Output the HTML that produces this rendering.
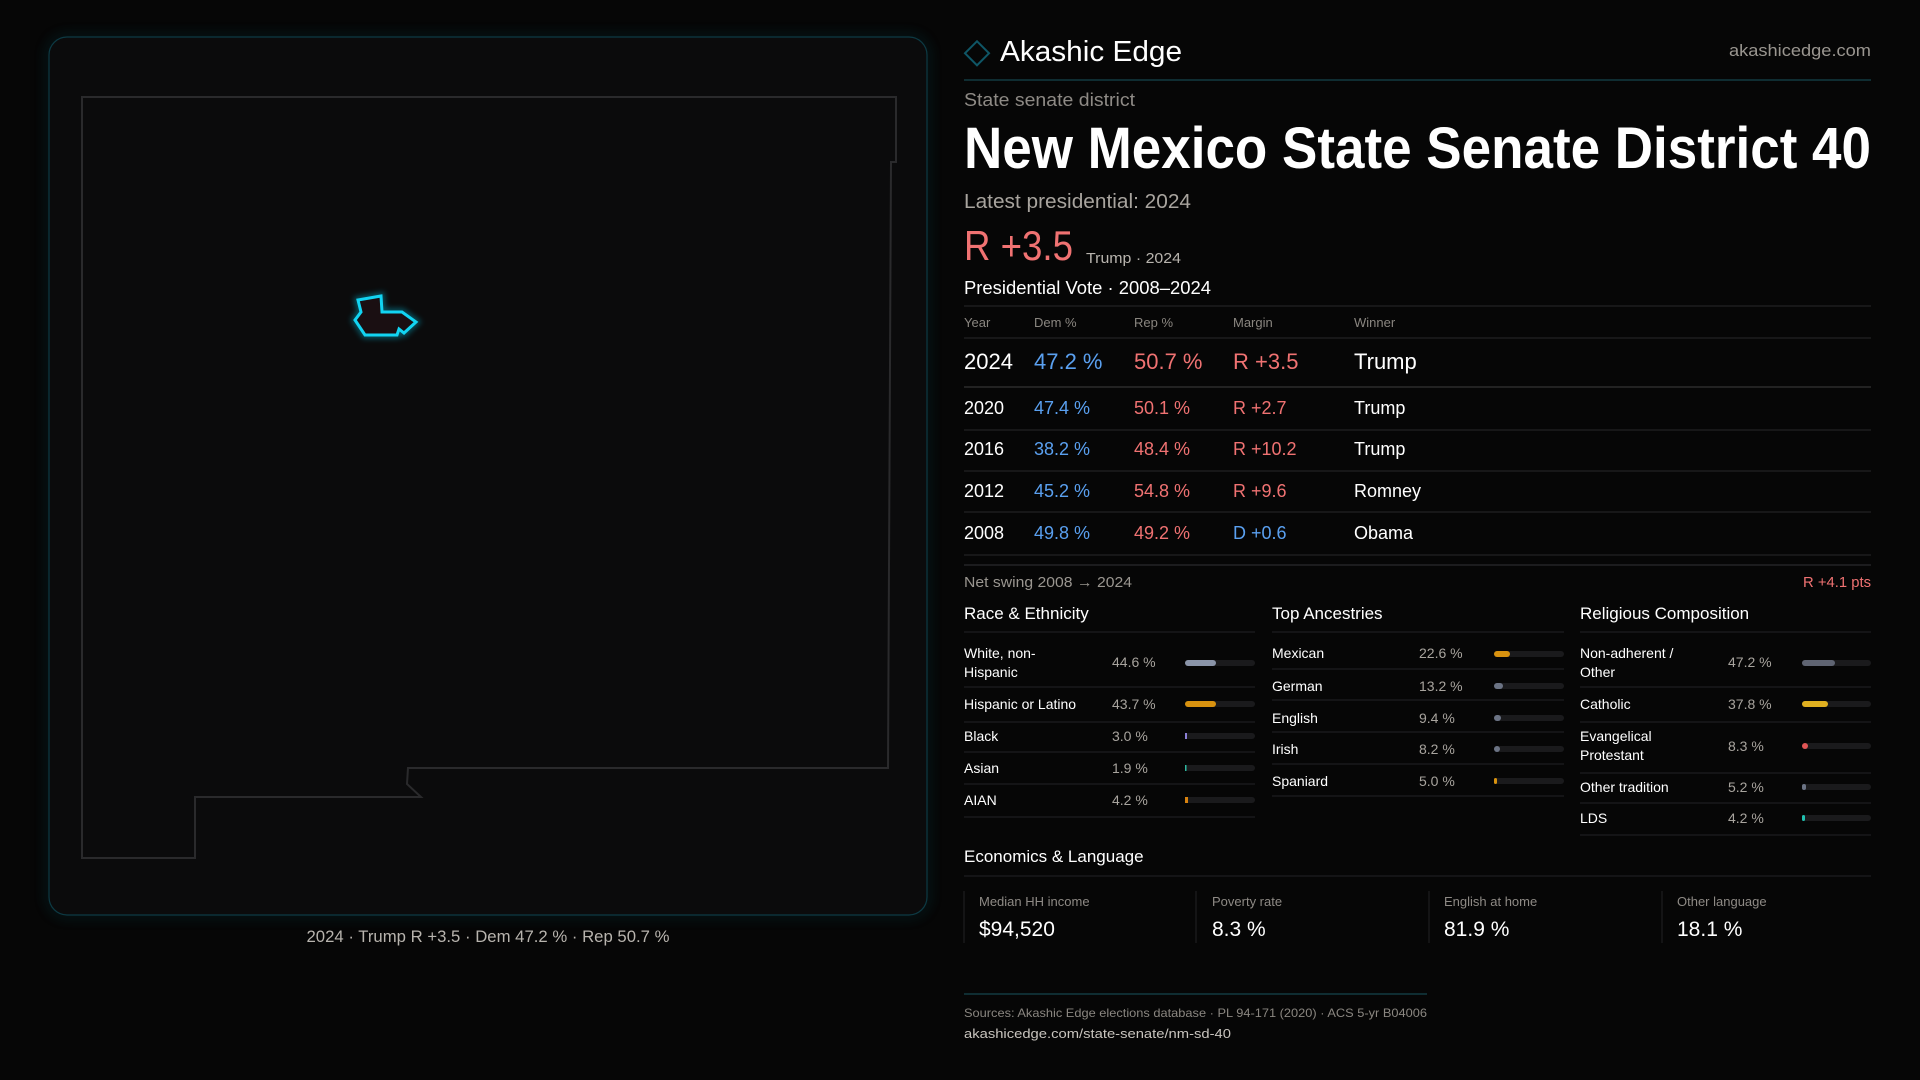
<!DOCTYPE html>
<html><head><meta charset="utf-8"><style>
html,body{margin:0;padding:0;background:#060606;}
svg{display:block;}
text{font-family:"Liberation Sans",sans-serif;}
</style></head><body>
<svg width="1920" height="1080" viewBox="0 0 1920 1080" xmlns="http://www.w3.org/2000/svg">
<defs>
<filter id="glow" x="-20%" y="-20%" width="140%" height="140%"><feGaussianBlur stdDeviation="6"/></filter>
<filter id="g2" x="-50%" y="-50%" width="200%" height="200%"><feGaussianBlur stdDeviation="3"/></filter>
</defs>
<rect width="1920" height="1080" fill="#060606"/>
<!-- map card -->
<rect x="49" y="37" width="878" height="878" rx="18" fill="none" stroke="#0c4450" stroke-width="4" opacity="0.5" filter="url(#glow)"/>
<rect x="49" y="37" width="878" height="878" rx="18" fill="#0b0b0c" stroke="#0d3a44" stroke-width="1.2"/>
<polygon points="82,97 896,97 896,162 891,162 888,768 408,768 407,784 421,797 195,797 195,858 82,858" fill="none" stroke="#2a2a2c" stroke-width="2"/>
<polygon points="358,300 381,296 382,312 402,312 416,322 404,333 399,329 397,335 365,335 355,320 361,312" fill="none" stroke="#00c8e8" stroke-width="7" opacity="0.4" filter="url(#g2)"/>
<polygon points="358,300 381,296 382,312 402,312 416,322 404,333 399,329 397,335 365,335 355,320 361,312" fill="#1a0f12" stroke="#12d4f2" stroke-width="3"/>
<text x="488" y="942" font-size="17" fill="#b8b4ae" text-anchor="middle" textLength="363" lengthAdjust="spacingAndGlyphs">2024 · Trump R +3.5 · Dem 47.2 % · Rep 50.7 %</text>

<!-- header -->
<rect x="968" y="45" width="17" height="17" transform="rotate(45 977 54)" fill="none" stroke="#0f5666" stroke-width="2"/>
<text x="1000" y="61" font-size="29" fill="#ffffff" textLength="182" lengthAdjust="spacingAndGlyphs">Akashic Edge</text>
<text x="1871" y="56" font-size="17" fill="#9a9690" text-anchor="end" textLength="142" lengthAdjust="spacingAndGlyphs">akashicedge.com</text>
<line x1="964" y1="80" x2="1871" y2="80" stroke="#123a40" stroke-width="1.5"/>
<text x="964" y="106" font-size="18" fill="#8e8a85" textLength="171" lengthAdjust="spacingAndGlyphs">State senate district</text>
<text x="964" y="168" font-size="58" fill="#ffffff" font-weight="bold" textLength="907" lengthAdjust="spacingAndGlyphs">New Mexico State Senate District 40</text>
<text x="964" y="208" font-size="20" fill="#a8a49e" textLength="227" lengthAdjust="spacingAndGlyphs">Latest presidential: 2024</text>
<text x="964" y="260" font-size="42" fill="#f07272" textLength="109" lengthAdjust="spacingAndGlyphs">R +3.5</text>
<text x="1086" y="263" font-size="15" fill="#b8b4ae" textLength="95" lengthAdjust="spacingAndGlyphs">Trump · 2024</text>
<text x="964" y="294" font-size="18" fill="#ffffff" textLength="247" lengthAdjust="spacingAndGlyphs">Presidential Vote · 2008–2024</text>
<g stroke="#222224" stroke-width="1.2">
<line x1="964" y1="306" x2="1871" y2="306"/>
<line x1="964" y1="338" x2="1871" y2="338"/>
<line x1="964" y1="387" x2="1871" y2="387" stroke="#333"/>
<line x1="964" y1="430" x2="1871" y2="430"/>
<line x1="964" y1="471" x2="1871" y2="471"/>
<line x1="964" y1="512" x2="1871" y2="512"/>
<line x1="964" y1="555" x2="1871" y2="555"/>
<line x1="964" y1="565" x2="1871" y2="565" stroke="#2a2a2c"/>
</g>
<g font-size="13" fill="#8a8680">
<text x="964" y="327">Year</text><text x="1034" y="327">Dem %</text><text x="1134" y="327">Rep %</text><text x="1233" y="327">Margin</text><text x="1354" y="327">Winner</text>
</g>
<g font-size="22">
<text x="964" y="369" fill="#fff">2024</text><text x="1034" y="369" fill="#5aa0f0">47.2 %</text><text x="1134" y="369" fill="#f07272">50.7 %</text><text x="1233" y="369" fill="#f07272">R +3.5</text><text x="1354" y="369" fill="#fff">Trump</text>
</g>
<g font-size="18">
<text x="964" y="414" fill="#fff">2020</text><text x="1034" y="414" fill="#5aa0f0">47.4 %</text><text x="1134" y="414" fill="#f07272">50.1 %</text><text x="1233" y="414" fill="#f07272">R +2.7</text><text x="1354" y="414" fill="#fff">Trump</text>
<text x="964" y="455" fill="#fff">2016</text><text x="1034" y="455" fill="#5aa0f0">38.2 %</text><text x="1134" y="455" fill="#f07272">48.4 %</text><text x="1233" y="455" fill="#f07272">R +10.2</text><text x="1354" y="455" fill="#fff">Trump</text>
<text x="964" y="497" fill="#fff">2012</text><text x="1034" y="497" fill="#5aa0f0">45.2 %</text><text x="1134" y="497" fill="#f07272">54.8 %</text><text x="1233" y="497" fill="#f07272">R +9.6</text><text x="1354" y="497" fill="#fff">Romney</text>
<text x="964" y="539" fill="#fff">2008</text><text x="1034" y="539" fill="#5aa0f0">49.8 %</text><text x="1134" y="539" fill="#f07272">49.2 %</text><text x="1233" y="539" fill="#5aa0f0">D +0.6</text><text x="1354" y="539" fill="#fff">Obama</text>
</g>
<text x="964" y="587" font-size="15" fill="#9a9690" textLength="168" lengthAdjust="spacingAndGlyphs">Net swing 2008 → 2024</text>
<text x="1871" y="587" font-size="15" fill="#f07272" text-anchor="end" textLength="68" lengthAdjust="spacingAndGlyphs">R +4.1 pts</text>

<!-- section titles -->
<g font-size="17" fill="#fff">
<text x="964" y="619">Race &amp; Ethnicity</text>
<text x="1272" y="619">Top Ancestries</text>
<text x="1580" y="619">Religious Composition</text>
</g>
<g stroke="#1e1e20" stroke-width="1.2">
<line x1="964" y1="632" x2="1255" y2="632"/><line x1="1272" y1="632" x2="1564" y2="632"/><line x1="1580" y1="632" x2="1871" y2="632"/>
<line x1="964" y1="687" x2="1255" y2="687"/><line x1="964" y1="722" x2="1255" y2="722"/><line x1="964" y1="752" x2="1255" y2="752"/><line x1="964" y1="784" x2="1255" y2="784"/><line x1="964" y1="817" x2="1255" y2="817"/>
<line x1="1272" y1="669" x2="1564" y2="669"/><line x1="1272" y1="700" x2="1564" y2="700"/><line x1="1272" y1="732" x2="1564" y2="732"/><line x1="1272" y1="764" x2="1564" y2="764"/><line x1="1272" y1="796" x2="1564" y2="796"/>
<line x1="1580" y1="687" x2="1871" y2="687"/><line x1="1580" y1="722" x2="1871" y2="722"/><line x1="1580" y1="773" x2="1871" y2="773"/><line x1="1580" y1="803" x2="1871" y2="803"/><line x1="1580" y1="835" x2="1871" y2="835"/>
</g>
<g font-size="14" fill="#fff">
<text x="964" y="658">White, non-</text><text x="964" y="677">Hispanic</text>
<text x="964" y="709">Hispanic or Latino</text>
<text x="964" y="741">Black</text>
<text x="964" y="773">Asian</text>
<text x="964" y="805">AIAN</text>
<text x="1272" y="658">Mexican</text>
<text x="1272" y="691">German</text>
<text x="1272" y="723">English</text>
<text x="1272" y="754">Irish</text>
<text x="1272" y="786">Spaniard</text>
<text x="1580" y="658">Non-adherent /</text><text x="1580" y="677">Other</text>
<text x="1580" y="709">Catholic</text>
<text x="1580" y="741">Evangelical</text><text x="1580" y="760">Protestant</text>
<text x="1580" y="792">Other tradition</text>
<text x="1580" y="823">LDS</text>
</g>
<g font-size="14" fill="#a8a49e">
<text x="1112" y="667">44.6 %</text><text x="1112" y="709">43.7 %</text><text x="1112" y="741">3.0 %</text><text x="1112" y="773">1.9 %</text><text x="1112" y="805">4.2 %</text>
<text x="1419" y="658">22.6 %</text><text x="1419" y="691">13.2 %</text><text x="1419" y="723">9.4 %</text><text x="1419" y="754">8.2 %</text><text x="1419" y="786">5.0 %</text>
<text x="1728" y="667">47.2 %</text><text x="1728" y="709">37.8 %</text><text x="1728" y="751">8.3 %</text><text x="1728" y="792">5.2 %</text><text x="1728" y="823">4.2 %</text>
</g>
<g fill="#1a1a1c">
<rect x="1185" y="660" width="70" height="6" rx="3"/><rect x="1185" y="701" width="70" height="6" rx="3"/><rect x="1185" y="733" width="70" height="6" rx="3"/><rect x="1185" y="765" width="70" height="6" rx="3"/><rect x="1185" y="797" width="70" height="6" rx="3"/>
<rect x="1494" y="651" width="70" height="6" rx="3"/><rect x="1494" y="683" width="70" height="6" rx="3"/><rect x="1494" y="715" width="70" height="6" rx="3"/><rect x="1494" y="746" width="70" height="6" rx="3"/><rect x="1494" y="778" width="70" height="6" rx="3"/>
<rect x="1802" y="660" width="69" height="6" rx="3"/><rect x="1802" y="701" width="69" height="6" rx="3"/><rect x="1802" y="743" width="69" height="6" rx="3"/><rect x="1802" y="784" width="69" height="6" rx="3"/><rect x="1802" y="815" width="69" height="6" rx="3"/>
</g>
<rect x="1185" y="660" width="31" height="6" rx="3" fill="#8a94a8"/>
<rect x="1185" y="701" width="31" height="6" rx="3" fill="#d8920f"/>
<rect x="1185" y="733" width="2" height="6" fill="#8b7fd6"/>
<rect x="1185" y="765" width="1.5" height="6" fill="#2fb8a0"/>
<rect x="1185" y="797" width="3" height="6" fill="#d8820f"/>
<rect x="1494" y="651" width="16" height="6" rx="3" fill="#d8920f"/>
<rect x="1494" y="683" width="9" height="6" rx="3" fill="#6b7384"/>
<rect x="1494" y="715" width="7" height="6" rx="3" fill="#6b7384"/>
<rect x="1494" y="746" width="6" height="6" rx="3" fill="#6b7384"/>
<rect x="1494" y="778" width="3" height="6" rx="1.5" fill="#d8920f"/>
<rect x="1802" y="660" width="33" height="6" rx="3" fill="#5f6472"/>
<rect x="1802" y="701" width="26" height="6" rx="3" fill="#e0b020"/>
<rect x="1802" y="743" width="6" height="6" rx="3" fill="#e05555"/>
<rect x="1802" y="784" width="4" height="6" rx="2" fill="#6b7384"/>
<rect x="1802" y="815" width="3" height="6" rx="1.5" fill="#20c0b0"/>

<!-- economics -->
<text x="964" y="862" font-size="17" fill="#fff">Economics &amp; Language</text>
<line x1="964" y1="876" x2="1871" y2="876" stroke="#1e1e20" stroke-width="1.2"/>
<g stroke="#1e1e20" stroke-width="1.2">
<line x1="964" y1="891" x2="964" y2="943"/><line x1="1196" y1="891" x2="1196" y2="943"/><line x1="1429" y1="891" x2="1429" y2="943"/><line x1="1662" y1="891" x2="1662" y2="943"/>
</g>
<g font-size="13" fill="#8e8a85">
<text x="979" y="906">Median HH income</text><text x="1212" y="906">Poverty rate</text><text x="1444" y="906">English at home</text><text x="1677" y="906">Other language</text>
</g>
<g font-size="21" fill="#fff">
<text x="979" y="936">$94,520</text><text x="1212" y="936">8.3 %</text><text x="1444" y="936">81.9 %</text><text x="1677" y="936">18.1 %</text>
</g>
<line x1="964" y1="994" x2="1427" y2="994" stroke="#123a40" stroke-width="1.5"/>
<text x="964" y="1017" font-size="12" fill="#8a8680" textLength="463" lengthAdjust="spacingAndGlyphs">Sources: Akashic Edge elections database · PL 94-171 (2020) · ACS 5-yr B04006</text>
<text x="964" y="1038" font-size="13" fill="#c8c4be" textLength="267" lengthAdjust="spacingAndGlyphs">akashicedge.com/state-senate/nm-sd-40</text>
</svg>
</body></html>
